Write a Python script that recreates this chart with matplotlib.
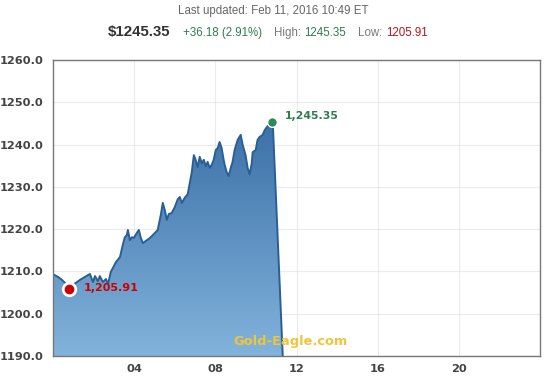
import numpy as np
import matplotlib
matplotlib.use("Agg")
import matplotlib.pyplot as plt
from matplotlib.colors import LinearSegmentedColormap

# ---- data (hours since midnight ET, price USD) ----
hours = [0.05, 0.25, 0.44, 0.59, 0.79, 0.98, 1.18, 1.33, 1.57, 1.82, 1.97, 2.07, 2.21, 2.31,
         2.46, 2.61, 2.71, 2.85, 2.95, 3.10, 3.30, 3.44, 3.54, 3.64, 3.69, 3.79, 3.89, 3.98,
         4.13, 4.23, 4.33, 4.43, 4.57, 4.77, 4.92, 5.16, 5.31, 5.41, 5.51, 5.61, 5.71, 5.85,
         6.00, 6.15, 6.25, 6.35, 6.49, 6.64, 6.74, 6.84, 6.94, 7.03, 7.13, 7.23, 7.33, 7.43,
         7.53, 7.62, 7.72, 7.82, 7.92, 8.02, 8.12, 8.21, 8.31, 8.41, 8.46, 8.56, 8.66, 8.76,
         8.85, 8.95, 9.10, 9.25, 9.35, 9.49, 9.59, 9.69, 9.79, 9.84, 9.99, 10.08, 10.18, 10.33,
         10.43, 10.58, 10.73, 10.80, 10.84, 11.66]
prices = [1209.2, 1208.7, 1208.0, 1207.3, 1205.91, 1206.8, 1207.5, 1208.0, 1208.7, 1209.4,
          1207.5, 1208.9, 1207.7, 1208.9, 1207.5, 1208.2, 1207.0, 1209.9, 1210.8, 1212.2,
          1213.4, 1216.3, 1218.1, 1218.6, 1219.8, 1217.4, 1218.1, 1217.9, 1219.1, 1219.8,
          1217.9, 1216.7, 1217.2, 1217.9, 1218.6, 1219.8, 1223.3, 1226.2, 1224.5, 1222.2,
          1223.6, 1223.8, 1225.2, 1227.1, 1227.6, 1226.2, 1227.4, 1228.3, 1230.9, 1233.5,
          1237.5, 1236.4, 1234.7, 1237.1, 1235.6, 1236.4, 1234.9, 1235.9, 1234.5, 1235.2,
          1236.4, 1238.7, 1239.2, 1240.6, 1239.2, 1236.4, 1235.2, 1233.5, 1232.6, 1234.5,
          1235.9, 1238.7, 1241.1, 1242.3, 1239.9, 1237.5, 1234.5, 1233.0, 1235.4, 1238.2,
          1238.7, 1241.1, 1241.8, 1242.3, 1243.4, 1244.4, 1244.9, 1245.35, 1244.2, 1152.0]

low_hour, low_price = 0.79, 1205.91
high_hour, high_price = 10.80, 1245.35

yticks = [1190, 1200, 1210, 1220, 1230, 1240, 1250, 1260]
xticks = [4, 8, 12, 16, 20]
xticklabels = ["04", "08", "12", "16", "20"]

last_updated = "Last updated: Feb 11, 2016 10:49 ET"
price_txt = "$1245.35"
change_txt = "+36.18 (2.91%)"
high_txt = "1245.35"
low_txt = "1205.91"

# ---- figure ----
W, H = 556, 385
fig = plt.figure(figsize=(W / 100, H / 100), dpi=100)
fig.patch.set_facecolor("white")
ax = fig.add_axes([53 / W, 1 - 356 / H, (540 - 53) / W, (356 - 60) / H])
ax.set_xlim(0, 24)
ax.set_ylim(1190, 1260)

# gradient fill
x = np.array(hours)
y = np.array(prices)
poly = ax.fill_between(x, y, 1100, color="none", lw=0)
cmap = LinearSegmentedColormap.from_list("g", ["#82b3dc", "#3b70a7"])
grad = np.linspace(0, 1, 256).reshape(-1, 1)
im = ax.imshow(grad, extent=[0, 24, 1190, 1246], origin="lower", cmap=cmap,
               aspect="auto", zorder=2)
path = poly.get_paths()[0]
im.set_clip_path(path, transform=ax.transData)
ax.plot(x, y, color="#2a5f95", lw=1.4, zorder=3, solid_joinstyle="round")

# grid
ax.set_yticks(yticks)
ax.set_xticks(xticks)
ax.grid(True, color="#dddddd", lw=0.8, zorder=0)
for g in ax.get_xgridlines() + ax.get_ygridlines():
    g.set_zorder(2.5)
    g.set_alpha(0.55)
ax.set_yticklabels([f"{v:.1f}" for v in yticks])
ax.set_xticklabels(xticklabels)
ax.tick_params(length=0, labelsize=8.2, colors="#444444", pad=6)
for lab in ax.get_yticklabels() + ax.get_xticklabels():
    lab.set_fontweight("bold")
    lab.set_fontfamily("DejaVu Sans")
for lab in ax.get_yticklabels():
    lab.set_horizontalalignment("left")
    lab.set_x(-53 / (540 - 53))
ax.tick_params(axis="y", pad=0)
for s in ax.spines.values():
    s.set_color("#777777")
    s.set_linewidth(1.0)
    s.set_zorder(5)

# markers
ax.plot([low_hour], [low_price], "o", ms=9, mfc="#cc0000", mec="white", mew=2, zorder=6,
        clip_on=False)
ax.text(low_hour + 0.72, low_price + 0.2, "1,205.91", color="#cc0000", fontsize=8,
        fontweight="bold", va="center", ha="left", zorder=7, family="DejaVu Sans")
ax.plot([high_hour], [high_price], "o", ms=7, mfc="#2e8b57", mec="white", mew=1, zorder=6)
ax.text(high_hour + 0.6, high_price + 1.3, "1,245.35", color="#2e7d4f", fontsize=7.8,
        fontweight="bold", va="center", ha="left", zorder=7, family="DejaVu Sans")

# watermark
ax.text((290 - 53) / (540 - 53), 1 - (342 - 60) / (356 - 60), "Gold-Eagle.com",
        transform=ax.transAxes, color="#f2c43a", fontsize=9.4, fontweight="bold",
        ha="center", va="center", zorder=8, family="DejaVu Sans")

# header
hdr = dict(family="Liberation Sans")
fs = 8.3
fig.text(273 / W, 1 - 11 / H, last_updated, ha="center", va="center", fontsize=fs,
         color="#666666", **hdr)
fig.text(108 / W, 1 - 32 / H, price_txt, ha="left", va="center", fontsize=10.8,
         color="#333333", fontweight="bold", **hdr)
fig.text(183 / W, 1 - 33 / H, change_txt, ha="left", va="center", fontsize=fs,
         color="#2e7d4f", **hdr)
fig.text(274 / W, 1 - 33 / H, "High:", ha="left", va="center", fontsize=fs,
         color="#777777", **hdr)
fig.text(304 / W, 1 - 33 / H, high_txt, ha="left", va="center", fontsize=fs,
         color="#2e7d4f", **hdr)
fig.text(358 / W, 1 - 33 / H, "Low:", ha="left", va="center", fontsize=fs,
         color="#777777", **hdr)
fig.text(386 / W, 1 - 33 / H, low_txt, ha="left", va="center", fontsize=fs,
         color="#b3141e", **hdr)

fig.savefig("out.png", dpi=100, facecolor="white")
